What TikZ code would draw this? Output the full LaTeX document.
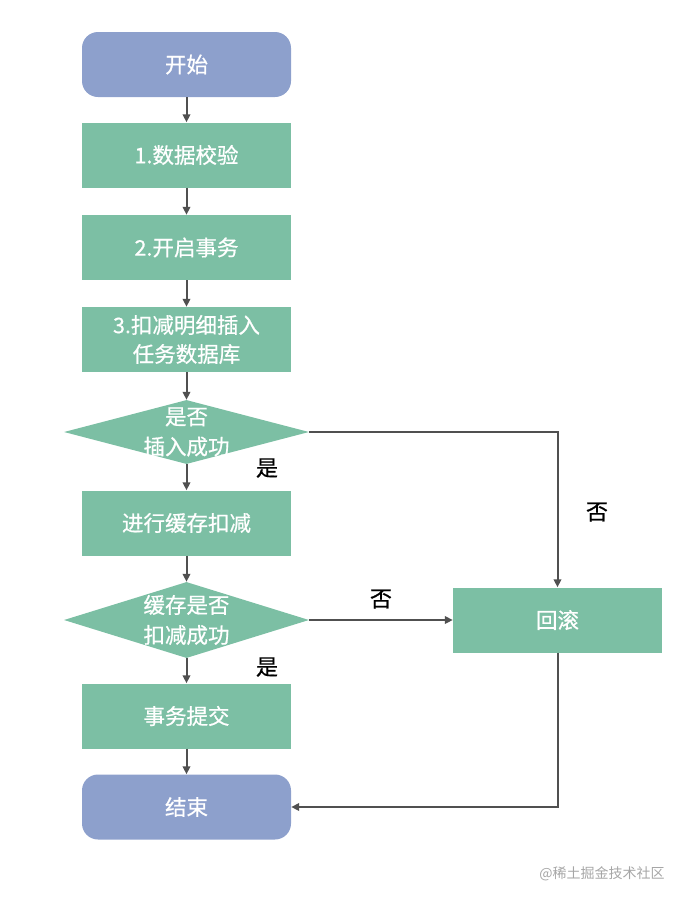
\documentclass[tikz,border=0pt]{standalone}
\usepackage{fontspec}
\setmainfont{Noto Sans CJK SC}
\newfontfamily\boxfont{Noto Sans CJK SC}[FakeBold=0.7]
\usetikzlibrary{shapes.geometric,arrows.meta}
\definecolor{boxgreen}{RGB}{124,191,164}
\definecolor{boxblue}{RGB}{141,160,204}
\definecolor{linegray}{RGB}{80,80,80}
\tikzset{
  procbox/.style={rectangle,fill=boxgreen,minimum width=209pt,minimum height=65pt,inner sep=0pt,
    text=white,font=\boxfont\fontsize{21.5}{29}\selectfont,align=center},
  termbox/.style={rectangle,rounded corners=16pt,fill=boxblue,minimum width=209pt,minimum height=65pt,inner sep=0pt,
    text=white,font=\boxfont\fontsize{21.5}{29}\selectfont},
  decbox/.style={diamond,fill=boxgreen,minimum width=245pt,inner sep=0pt},
  dectext/.style={text=white,font=\boxfont\fontsize{21.5}{30}\selectfont,align=center,inner sep=0pt},
  lbl/.style={text=black,font=\boxfont\fontsize{22}{26}\selectfont,inner sep=0pt},
  conn/.style={draw=linegray,line width=2pt,-{Triangle[length=8pt,width=7.5pt]}},
}
\begin{document}
\begin{tikzpicture}[x=1pt,y=-1pt]
\useasboundingbox (0,0) rectangle (688,906);
\node[termbox] (start) at (186.5,64.5) {开始};
\node[procbox] (s1) at (186.5,155) {1.数据校验};
\node[procbox] (s2) at (186.5,247.5) {2.开启事务};
\node[procbox] (s3) at (186.5,339.5) {3.扣减明细插入\\任务数据库};
\node[decbox,minimum height=64pt] (d1) at (186.5,432) {};
\node[dectext] (d1t) at (186.5,432) {是否\\插入成功};
\node[procbox] (s4) at (186.5,523) {进行缓存扣减};
\node[decbox,minimum height=76pt] (d2) at (186.5,620) {};
\node[dectext] (d2t) at (186.5,620) {缓存是否\\扣减成功};
\node[procbox] (s5) at (186.5,716) {事务提交};
\node[termbox] (end) at (186.5,807) {结束};
\node[procbox] (rb) at (557.5,620) {回滚};
\coordinate (c1) at (557.5,432);
\coordinate (c2) at (557.5,807);

\draw[conn] (start) -- (s1);
\draw[conn] (s1) -- (s2);
\draw[conn] (s2) -- (s3);
\draw[conn] (s3) -- (d1);
\draw[conn] (d1) -- (s4);
\draw[conn] (s4) -- (d2);
\draw[conn] (d2) -- (s5);
\draw[conn] (s5) -- (end);
\draw[conn] (d1.east) -- (c1) -- (rb.north);
\draw[conn] (d2.east) -- (rb.west);
\draw[conn] (rb.south) -- (c2) -- (end.east);

\node[lbl] (y1) at (267,468) {是};
\node[lbl] (y2) at (267,667) {是};
\node[lbl] (n1) at (597,512) {否};
\node[lbl] (n2) at (381,599) {否};
\node[text=gray!70,font=\fontsize{14}{16}\selectfont,inner sep=0pt] (wm) at (602,874) {@稀土掘金技术社区};
\end{tikzpicture}
\end{document}
